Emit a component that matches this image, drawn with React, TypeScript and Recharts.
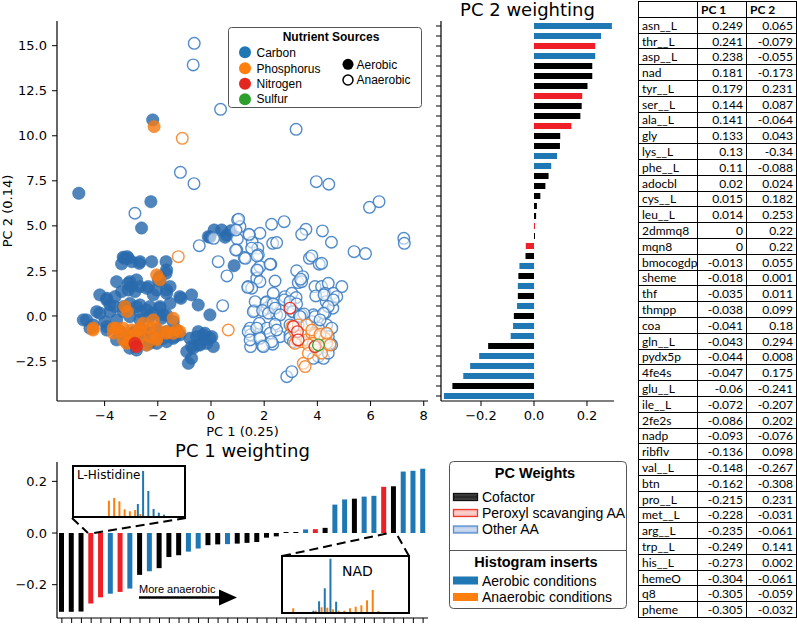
import React from 'react';
import { ScatterChart, Scatter, XAxis, YAxis, BarChart, Bar, Cell } from 'recharts';

// ---------------- Table / weighting data ----------------
const metabolites = ['asn__L','thr__L','asp__L','nad','tyr__L','ser__L','ala__L','gly','lys__L','phe__L','adocbl','cys__L','leu__L','2dmmq8','mqn8','bmocogdp','sheme','thf','thmpp','coa','gln__L','pydx5p','4fe4s','glu__L','ile__L','2fe2s','nadp','ribflv','val__L','btn','pro__L','met__L','arg__L','trp__L','his__L','hemeO','q8','pheme'];
const pc1Weights = [0.249,0.241,0.238,0.181,0.179,0.144,0.141,0.133,0.13,0.11,0.02,0.015,0.014,0,0,-0.013,-0.018,-0.035,-0.038,-0.041,-0.043,-0.044,-0.047,-0.06,-0.072,-0.086,-0.093,-0.136,-0.148,-0.162,-0.215,-0.228,-0.235,-0.249,-0.273,-0.304,-0.305,-0.305];
const pc2Weights = [0.065,-0.079,-0.055,-0.173,0.231,0.087,-0.064,0.043,-0.34,-0.088,0.024,0.182,0.253,0.22,0.22,0.055,0.001,0.011,0.099,0.18,0.294,0.008,0.175,-0.241,-0.207,0.202,-0.076,0.098,-0.267,-0.308,0.231,-0.031,-0.061,0.141,0.002,-0.061,-0.059,-0.032];
// C = cofactor, P = peroxyl scavenging AA, A = other AA
const metaboliteGroups = ['A','A','A','C','P','A','A','C','A','A','C','P','A','C','C','C','C','C','C','C','A','C','C','A','A','C','C','C','A','C','A','P','A','P','P','C','C','C'];

// ---------------- Scatter data (PC1, PC2) ----------------
const carbonAerobic = [[-4.97,6.81],[-2.26,6.34],[-2.19,10.88],[-2.61,4.88],[0.12,4.77],[-0.04,4.37],[0.53,4.37],[0.75,4.73],[0.59,4.49],[0.4,4.77],[-0.1,4.4],[0.87,2.79],[-3.26,3.2],[-3.11,3.2],[-3.36,2.89],[-2.98,3.01],[-2.67,3.01],[-2.23,3.01],[-1.69,3.01],[-1.67,2.55],[-1.92,2.18],[-1.98,2.0],[-2.7,2.92],[-3.3,3.26],[-3.15,3.29],[-3.55,1.9],[-3.11,1.81],[-2.98,1.63],[-2.67,1.63],[-2.86,1.35],[-2.42,1.54],[-2.04,1.44],[-1.67,1.44],[-1.54,1.63],[-3.05,1.9],[-2.8,2.0],[-3.11,1.44],[-2.36,1.63],[-2.17,1.17],[-1.67,1.26],[-1.92,1.94],[-1.69,2.37],[-4.18,1.17],[-3.92,0.98],[-3.61,1.07],[-3.36,1.35],[-3.8,0.61],[-3.3,0.52],[-3.05,0.7],[-2.67,0.61],[-2.3,0.52],[-1.92,0.52],[-1.54,0.7],[-1.17,1.07],[-0.73,1.17],[-0.48,0.61],[-1.13,0.98],[-0.04,0.06],[-4.3,0.24],[-4.68,-0.22],[-3.92,0.89],[-3.61,0.52],[-3.24,0.43],[-2.8,0.52],[-2.42,0.33],[-1.92,0.43],[-1.67,0.06],[-4.8,-0.22],[-4.43,-0.5],[-3.99,-0.32],[-3.55,-0.22],[-3.05,-0.04],[-2.67,-0.22],[-2.3,-0.04],[-1.85,-0.13],[-1.42,-0.32],[-4.18,0.15],[-3.8,0.24],[-3.3,0.24],[-2.67,0.24],[-2.17,0.15],[-1.79,0.06],[-3.55,-1.33],[-3.11,-1.15],[-2.67,-1.33],[-2.3,-1.52],[-1.79,-1.24],[-1.35,-1.15],[-3.42,-0.87],[-2.86,-0.87],[-2.42,-0.87],[-2.04,-0.78],[-1.67,-0.87],[-1.29,-0.78],[-3.92,-0.59],[-3.17,-1.43],[-2.8,-1.89],[-2.42,-1.61],[-2.04,-1.52],[-1.67,-1.43],[-1.42,-1.24],[-1.17,-1.05],[-2.55,-0.87],[-2.92,-0.96],[-3.92,-0.78],[-4.55,-0.68],[-3.05,-1.79],[-0.91,-1.98],[-0.54,-1.15],[-0.29,-1.05],[0.03,-1.15],[-0.73,-1.7],[-0.48,-1.61],[-0.16,-1.52],[0.09,-1.7],[-0.79,-1.24],[-0.29,-1.33],[-0.04,-1.24],[-0.41,-1.61],[-0.67,-1.79],[-0.73,-2.35],[-0.85,-2.63],[-0.23,-0.96],[-0.48,-0.87]];
const phosphorusAerobic = [[-2.14,10.51],[-2.04,2.28],[-1.92,2.0],[-4.43,-0.68],[-3.24,0.52],[-3.15,0.24],[-3.55,-0.68],[-3.3,-0.68],[-2.98,-0.78],[-2.67,-0.68],[-3.67,-0.96],[-3.05,-1.15],[-2.67,-1.15],[-2.3,-1.15],[-2.04,-0.68],[-1.42,-0.13],[-1.29,-0.78],[-1.17,-0.87],[-2.04,-1.33],[-1.67,-0.96],[-2.55,-0.41],[-2.17,-0.22],[-3.17,-1.52],[-2.8,-1.61],[-2.42,-1.61],[-3.3,-1.33],[-4.43,-0.78],[-3.67,-0.68],[-3.42,-0.87],[-2.92,-1.05],[-2.67,-0.78],[-2.3,-0.68],[-2.04,-1.24],[-1.67,-0.87],[-1.42,-0.96],[-3.05,-1.43]];
const nitrogenAerobic = [[-2.86,-1.52],[-2.8,-1.7]];
const carbonAnaerobic = [[-0.63,15.13],[-0.67,13.93],[0.36,11.47],[3.2,10.36],[-1.15,7.97],[-0.64,7.34],[-2.86,5.7],[3.96,7.45],[4.43,7.31],[5.96,6.03],[6.32,6.34],[7.25,4.31],[7.27,4.03],[5.38,3.57],[5.81,3.46],[4.53,4.09],[4.19,4.72],[3.57,4.81],[3.41,4.53],[2.75,5.23],[2.28,5.09],[2.32,4.03],[2.47,4.07],[1.0,5.33],[1.09,4.96],[1.84,4.59],[1.44,4.49],[1.55,4.09],[0.99,4.27],[1.76,3.76],[1.53,3.76],[1.78,3.39],[1.25,3.24],[0.97,3.66],[-0.44,3.9],[0.1,4.31],[0.27,3.01],[0.6,2.22],[1.72,2.51],[1.84,2.74],[2.25,2.87],[2.41,1.94],[1.72,2.09],[1.84,1.9],[1.4,1.63],[1.53,1.54],[0.44,0.57],[3.22,2.51],[3.45,2.18],[3.28,1.85],[3.41,1.9],[3.7,3.2],[3.79,3.33],[4.07,2.87],[4.16,2.92],[3.91,1.63],[4.16,1.63],[4.41,1.81],[4.92,1.63],[4.29,1.26],[4.6,1.26],[4.73,1.07],[4.33,0.79],[4.58,0.43],[4.29,0.15],[2.78,1.07],[3.04,1.26],[3.2,1.02],[2.1,0.79],[2.28,0.7],[2.34,1.26],[2.1,0.43],[1.63,0.3],[2.97,0.61],[3.1,0.24],[3.85,0.06],[3.41,0.06],[2.47,0.06],[1.04,5.37],[0.94,4.77],[1.43,4.53],[0.93,3.66],[1.29,3.2],[1.73,3.33],[2.22,2.87],[1.74,2.55],[1.38,1.59],[3.37,2.04],[3.94,1.11],[4.25,1.17],[4.6,0.89],[4.41,0.52],[1.66,0.79],[2.07,0.74],[2.34,0.67],[2.76,0.89],[2.97,0.79],[3.22,0.67],[1.59,0.24],[1.94,0.3],[2.16,0.15],[2.41,0.43],[2.6,0.06],[3.07,0.24],[3.32,0.0],[3.5,0.11],[1.47,-0.68],[1.82,-0.41],[2.1,-0.68],[2.41,-0.46],[2.97,-0.5],[3.35,-0.04],[3.79,-0.32],[3.91,-0.04],[4.23,0.15],[4.35,-0.5],[4.54,-0.68],[1.49,-1.05],[1.84,-1.15],[2.22,-0.96],[2.6,-1.15],[2.97,-1.05],[1.49,-1.7],[1.93,-1.65],[2.32,-1.57],[4.25,-1.7],[4.54,-1.61],[4.33,-0.96],[4.04,-0.68],[3.91,-0.96],[4.1,-0.22],[1.4,-0.87],[1.72,-0.68],[2.47,-0.78],[1.47,-1.33],[1.84,-1.24],[2.28,-1.43],[1.97,-1.7],[2.85,-3.37],[3.04,-3.09],[4.04,-2.26],[4.23,-2.35],[3.85,-2.35],[4.41,-2.07],[4.48,-1.52],[4.41,-1.15],[2.97,-1.24],[3.1,-1.43]];
const phosphorusAnaerobic = [[-1.08,9.86],[-1.23,3.29],[0.65,-0.78],[3.16,-0.87],[3.22,-1.33],[3.41,-1.43],[3.6,-1.33],[3.79,-0.96],[3.91,-1.05],[4.1,-1.15],[4.29,-1.24],[4.35,-1.52],[3.85,-1.52],[3.66,-1.61],[3.47,-2.63],[3.54,-2.81],[3.16,-1.52],[3.98,-1.89],[4.16,-2.07],[4.48,-1.61],[3.04,-0.59],[3.28,-0.5],[3.6,-0.5],[3.79,-0.78],[4.1,-1.02],[4.35,-0.96],[3.66,-2.07]];
const nitrogenAnaerobic = [[3.1,-0.59],[3.25,-0.87],[3.28,-1.33],[3.91,-1.7],[2.97,0.43]];
const sulfurAnaerobic = [[4.04,-1.61]];

// ---------------- Histogram inserts ----------------
const hisAerobic = [0,0,0,0,0,0,0,0,0,0,0,0,12,45,25,7,3.3,1.3,0,0,0];
const hisAnaerobic = [0,0,0,0,0,0,15.3,18,14.7,6.7,4.7,6,2,0,0,0,0,0,0,0,0];
const nadAerobic = [0,0,0,0,0,1.3,10.7,23.7,53.3,10.3,0,0,0,0,0,0,0,0,0,0,0,0];
const nadAnaerobic = [0,3.7,0,0,0,1.3,4.7,4.3,2.7,1.3,1.3,3.7,5.3,6.7,11.7,22,1,0,0,0,0,0];

// ---------------- Tick labels ----------------
const scatterXTicks = [-4,-2,0,2,4,6,8];
const scatterYTicks = [-2.5,0,2.5,5,7.5,10,12.5,15];
const weightTicks = [-0.2,0,0.2];

const GROUP_COLOR: Record<string,string> = { C: '#000000', P: '#ee1f26', A: '#1f77b4' };
const BLUE = '#1f77b4';
const ORANGE = '#ff7f0e';

const rows = metabolites.map((name, i) => ({ name, pc1: pc1Weights[i], pc2: pc2Weights[i], color: GROUP_COLOR[metaboliteGroups[i]] }));
const pc1Data = rows.slice().reverse().map(r => ({ name: r.name, value: r.pc1, color: r.color }));
const pc2Data = rows.slice().sort((a, b) => b.pc2 - a.pc2).map(r => ({ name: r.name, value: r.pc2, color: r.color }));
const hisData = hisAerobic.map((v, i) => ({ bin: i, aer: v, ana: hisAnaerobic[i] }));
const nadData = nadAerobic.map((v, i) => ({ bin: i, aer: v, ana: nadAnaerobic[i] }));
const pts = (a: number[][]) => a.map(([x, y]) => ({ x, y }));

const MINUS = '\u2212';
const fmt1 = (v: number) => (v < 0 ? MINUS : '') + Math.abs(v).toFixed(1);
const fmt0 = (v: number) => (v < 0 ? MINUS : '') + String(Math.abs(v));
const tickFont = { fontSize: 13, fill: '#000', fontFamily: 'DejaVu Sans' };
const axisLine = { stroke: '#000', strokeWidth: 1.2 };
const tickLine = { stroke: '#000', strokeWidth: 1 };

const filledDot = (color: string) => (p: any) => (
  <circle cx={p.cx} cy={p.cy} r={6.2} fill={color} fillOpacity={0.82} stroke={color} strokeOpacity={0.82} strokeWidth={0.6} />
);
const openDot = (color: string) => (p: any) => (
  <circle cx={p.cx} cy={p.cy} r={5.8} fill="#fff" fillOpacity={0.55} stroke={color} strokeOpacity={0.9} strokeWidth={1.4} />
);

const SX: [number, number] = [-5.79, 8.16];
const SY: [number, number] = [-4.72, 16.37];
const W2: [number, number] = [-0.351, 0.302];
const W1: [number, number] = [-0.329, 0.275];

function ScatterPanel() {
  return (
    <ScatterChart width={440} height={440} margin={{ top: 21, right: 12, bottom: 0, left: 0 }}>
      <XAxis xAxisId="b" type="number" dataKey="x" domain={SX} allowDataOverflow ticks={scatterXTicks} interval={0} height={39} tickSize={5} tickMargin={5} tick={tickFont} tickFormatter={fmt0} axisLine={axisLine} tickLine={tickLine} />
      <XAxis xAxisId="t" orientation="top" type="number" dataKey="x" domain={SX} allowDataOverflow height={0} tick={false} tickLine={false} axisLine={axisLine} />
      <YAxis yAxisId="l" type="number" dataKey="y" domain={SY} allowDataOverflow ticks={scatterYTicks} interval={0} width={57} tickSize={5} tickMargin={5} tick={tickFont} tickFormatter={fmt1} axisLine={axisLine} tickLine={tickLine} />
      <YAxis yAxisId="r" orientation="right" type="number" dataKey="y" domain={SY} allowDataOverflow width={0} tick={false} tickLine={false} axisLine={axisLine} />
      <Scatter xAxisId="b" yAxisId="l" data={pts(carbonAerobic)} shape={filledDot('#2a6aad')} isAnimationActive={false} />
      <Scatter xAxisId="b" yAxisId="l" data={pts(phosphorusAerobic)} shape={filledDot('#f57a12')} isAnimationActive={false} />
      <Scatter xAxisId="b" yAxisId="l" data={pts(nitrogenAerobic)} shape={filledDot('#e3261f')} isAnimationActive={false} />
      <Scatter xAxisId="b" yAxisId="l" data={pts(carbonAnaerobic)} shape={openDot('#3f7fc4')} isAnimationActive={false} />
      <Scatter xAxisId="b" yAxisId="l" data={pts(phosphorusAnaerobic)} shape={openDot('#f5852a')} isAnimationActive={false} />
      <Scatter xAxisId="b" yAxisId="l" data={pts(nitrogenAnaerobic)} shape={openDot('#e3261f')} isAnimationActive={false} />
      <Scatter xAxisId="b" yAxisId="l" data={pts(sulfurAnaerobic)} shape={openDot('#2ca02c')} isAnimationActive={false} />
    </ScatterChart>
  );
}

const noTick = () => <g />;

function PC2Panel() {
  return (
    <BarChart layout="vertical" width={200} height={440} data={pc2Data} margin={{ top: 21, right: 6, bottom: 0, left: 0 }}>
      <XAxis xAxisId="b" type="number" domain={W2} allowDataOverflow ticks={weightTicks} interval={0} height={39} tickSize={5} tickMargin={5} tick={tickFont} tickFormatter={fmt1} axisLine={axisLine} tickLine={tickLine} />
      <XAxis xAxisId="t" orientation="top" type="number" domain={W2} allowDataOverflow height={0} tick={false} tickLine={false} axisLine={axisLine} />
      <YAxis yAxisId="l" type="category" dataKey="name" width={21} interval={0} tickSize={5} tick={noTick} axisLine={axisLine} tickLine={tickLine} />
      <YAxis yAxisId="r" orientation="right" type="category" dataKey="name" width={0} tick={false} tickLine={false} axisLine={axisLine} />
      <Bar xAxisId="b" yAxisId="l" dataKey="value" barSize={6} minPointSize={1} isAnimationActive={false}>
        {pc2Data.map((d, i) => <Cell key={i} fill={d.color} />)}
      </Bar>
    </BarChart>
  );
}

function PC1Panel() {
  return (
    <BarChart width={440} height={184} data={pc1Data} margin={{ top: 22, right: 12, bottom: 0, left: 0 }}>
      <XAxis xAxisId="b" type="category" dataKey="name" height={6} interval={0} tickSize={5} tick={noTick} axisLine={axisLine} tickLine={tickLine} />
      <XAxis xAxisId="t" orientation="top" type="category" dataKey="name" height={0} tick={false} tickLine={false} axisLine={axisLine} />
      <YAxis yAxisId="l" type="number" domain={W1} allowDataOverflow ticks={weightTicks} interval={0} width={57} tickSize={5} tickMargin={5} tick={tickFont} tickFormatter={fmt1} axisLine={axisLine} tickLine={tickLine} />
      <YAxis yAxisId="r" orientation="right" type="number" domain={W1} allowDataOverflow width={0} tick={false} tickLine={false} axisLine={axisLine} />
      <Bar xAxisId="b" yAxisId="l" dataKey="value" barSize={5} minPointSize={1} isAnimationActive={false}>
        {pc1Data.map((d, i) => <Cell key={i} fill={d.color} />)}
      </Bar>
    </BarChart>
  );
}

function Inset({ data, w, h, max }: { data: any[]; w: number; h: number; max: number }) {
  return (
    <BarChart width={w} height={h} data={data} margin={{ top: 0, right: 0, bottom: 0, left: 0 }} barGap={0.5}>
      <XAxis dataKey="bin" hide />
      <YAxis domain={[0, max]} hide />
      <Bar dataKey="aer" fill={BLUE} barSize={2} isAnimationActive={false} />
      <Bar dataKey="ana" fill={ORANGE} barSize={2} isAnimationActive={false} />
    </BarChart>
  );
}

const abs = (l: number, t: number): React.CSSProperties => ({ position: 'absolute', left: l, top: t });

function Table() {
  const cell = (content: React.ReactNode, align: 'left' | 'right', bold = false, key?: string) => (
    <div key={key} style={{ borderRight: '1px solid #000', borderBottom: '1px solid #000', boxSizing: 'border-box', display: 'flex', alignItems: 'center', justifyContent: align === 'right' ? 'flex-end' : 'flex-start', padding: '0 3px', fontWeight: bold ? 700 : 400, whiteSpace: 'nowrap', overflow: 'hidden' }}>{content}</div>
  );
  return (
    <div style={{ ...abs(638, 1), width: 158, display: 'grid', gridTemplateColumns: '59px 49px 50px', gridAutoRows: '15.8px', borderTop: '1px solid #000', borderLeft: '1px solid #000', fontFamily: 'Lato', fontSize: 12, color: '#000', background: '#fff' }}>
      {cell('', 'left', false, 'h0')}
      {cell('PC 1', 'left', true, 'h1')}
      {cell('PC 2', 'left', true, 'h2')}
      {rows.map((r, i) => (
        <React.Fragment key={i}>
          {cell(r.name, 'left')}
          {cell(String(r.pc1), 'right')}
          {cell(String(r.pc2), 'right')}
        </React.Fragment>
      ))}
    </div>
  );
}

export default function App() {
  const lf = 'Liberation Sans, Arial, sans-serif';
  return (
    <div style={{ position: 'absolute', left: 0, top: 0, width: 797, height: 624, background: '#fff', overflow: 'hidden' }}>
      <div style={abs(0, 0)}><ScatterPanel /></div>
      <div style={abs(420, 0)}><PC2Panel /></div>
      <div style={abs(0, 440)}><PC1Panel /></div>

      <svg width={797} height={624} style={{ position: 'absolute', left: 0, top: 0 }}>
        <g fontFamily="DejaVu Sans" fill="#000">
          <text x={242.5} y={436} textAnchor="middle" fontSize={13}>PC 1 (0.25)</text>
          <text transform="translate(12,211) rotate(-90)" textAnchor="middle" fontSize={13}>PC 2 (0.14)</text>
          <text x={527.5} y={16} textAnchor="middle" fontSize={18}>PC 2 weighting</text>
          <text x={242.5} y={457} textAnchor="middle" fontSize={18}>PC 1 weighting</text>
        </g>
        {/* scatter legend */}
        <g fontFamily={lf} fontSize={12} fill="#000">
          <rect x={228.5} y={27.5} width={193} height={80} rx={3} fill="#fff" fillOpacity={0.85} stroke="#555" />
          <text x={331} y={41} textAnchor="middle" fontWeight="bold">Nutrient Sources</text>
          <circle cx={245} cy={52.3} r={6} fill={BLUE} />
          <text x={256.5} y={56.5}>Carbon</text>
          <circle cx={245} cy={68.3} r={6} fill={ORANGE} />
          <text x={256.5} y={72.5}>Phosphorus</text>
          <circle cx={245} cy={83.8} r={6} fill="#e3261f" />
          <text x={256.5} y={88}>Nitrogen</text>
          <circle cx={245} cy={99.2} r={6} fill="#2ca02c" />
          <text x={256.5} y={103.4}>Sulfur</text>
          <circle cx={348} cy={64.3} r={5.5} fill="#000" />
          <text x={356.5} y={68.6}>Aerobic</text>
          <circle cx={348} cy={80} r={5} fill="#fff" stroke="#000" strokeWidth={1.5} />
          <text x={356.5} y={84.3}>Anaerobic</text>
        </g>
        {/* connectors */}
        <g stroke="#000" strokeWidth={2} strokeDasharray="9 5" fill="none">
          <line x1={72} y1={518} x2={88} y2={533} />
          <line x1={186} y1={518} x2={94} y2={533} />
          <line x1={282} y1={556} x2={389} y2={533} />
          <line x1={409} y1={556} x2={396} y2={533} />
        </g>
        {/* arrow */}
        <text x={139} y={592.5} fontFamily={lf} fontSize={11} fill="#000">More anaerobic</text>
        <line x1={139} y1={597.5} x2={222} y2={597.5} stroke="#000" strokeWidth={2.5} />
        <polygon points="219,589.5 237,597.5 219,605.5" fill="#000" />
        {/* PC weights legend */}
        <defs>
          <linearGradient id="gK" x1="0" y1="0" x2="0" y2="1"><stop offset="0" stopColor="#555" /><stop offset="0.5" stopColor="#222" /><stop offset="1" stopColor="#555" /></linearGradient>
          <linearGradient id="gR" x1="0" y1="0" x2="0" y2="1"><stop offset="0" stopColor="#f7b3ad" /><stop offset="0.5" stopColor="#fbd3cf" /><stop offset="1" stopColor="#f7b3ad" /></linearGradient>
          <linearGradient id="gB" x1="0" y1="0" x2="0" y2="1"><stop offset="0" stopColor="#a9c3e6" /><stop offset="0.5" stopColor="#cfdcf0" /><stop offset="1" stopColor="#a9c3e6" /></linearGradient>
        </defs>
        <g fontFamily={lf} fill="#000">
          <rect x={449.5} y={461.5} width={177} height={147} rx={4} fill="#fff" stroke="#555" />
          <line x1={449.5} y1={550.5} x2={626.5} y2={550.5} stroke="#555" />
          <text x={535} y={478} textAnchor="middle" fontSize={14.5} fontWeight="bold">PC Weights</text>
          <rect x={453.5} y={493.5} width={24} height={7} fill="url(#gK)" stroke="#111" strokeWidth={1.3} />
          <text x={482} y={501.5} fontSize={14}>Cofactor</text>
          <rect x={453.5} y={509.5} width={24} height={7} fill="url(#gR)" stroke="#ee3a2e" strokeWidth={1.3} />
          <text x={482} y={517.5} fontSize={14}>Peroxyl scavanging AA</text>
          <rect x={453.5} y={526} width={24} height={7} fill="url(#gB)" stroke="#5b8ed0" strokeWidth={1.3} />
          <text x={482} y={534} fontSize={14}>Other AA</text>
          <text x={536} y={567} textAnchor="middle" fontSize={14.5} fontWeight="bold">Histogram inserts</text>
          <rect x={453} y={576.5} width={25} height={8} fill={BLUE} />
          <text x={482} y={585.5} fontSize={14}>Aerobic conditions</text>
          <rect x={453} y={593} width={25} height={8} fill={ORANGE} />
          <text x={482} y={602} fontSize={14}>Anaerobic conditions</text>
        </g>
      </svg>

      {/* insets */}
      <div style={{ ...abs(72, 465), width: 114, height: 53, border: '2px solid #000', boxSizing: 'border-box', background: '#fff' }}>
        <Inset data={hisData} w={110} h={49} max={49} />
        <div style={{ position: 'absolute', left: 3, top: 1, fontFamily: 'DejaVu Sans', fontSize: 12, lineHeight: '14px' }}>L-Histidine</div>
      </div>
      <div style={{ ...abs(281, 555), width: 129, height: 59, border: '2px solid #000', boxSizing: 'border-box', background: '#fff' }}>
        <Inset data={nadData} w={125} h={55} max={55} />
        <div style={{ position: 'absolute', left: 59, top: 6, fontFamily: 'DejaVu Sans', fontSize: 14, lineHeight: '16px' }}>NAD</div>
      </div>

      <Table />
    </div>
  );
}
